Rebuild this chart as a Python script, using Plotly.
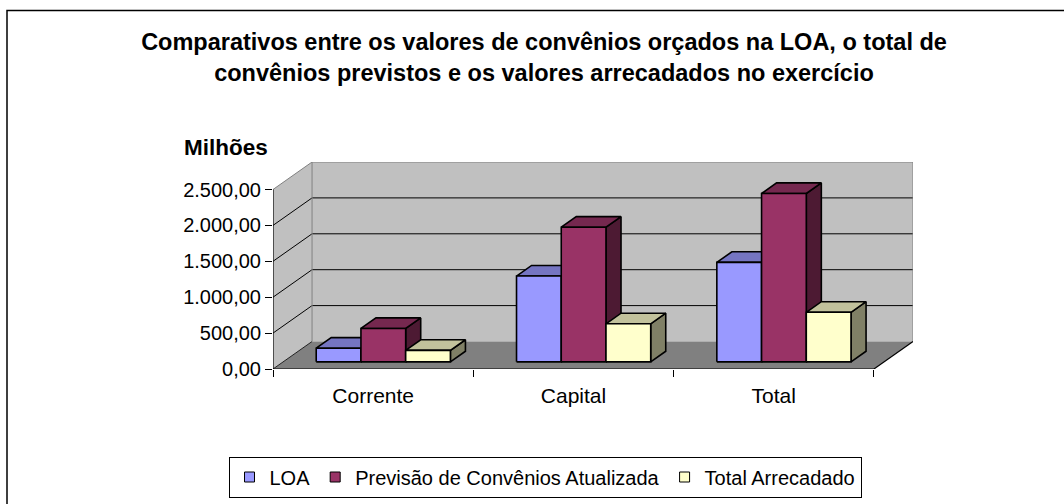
import plotly.graph_objects as go

# ---------------- data ----------------
categories = ["Corrente", "Capital", "Total"]
series_names = ["LOA", "Previsão de Convênios Atualizada", "Total Arrecadado"]
loa = [190, 1195, 1385]
previsao = [465, 1875, 2345]
arrecadado = [160, 530, 690]
y_tickvals = [0, 500, 1000, 1500, 2000, 2500]
y_ticktext = ["0,00", "500,00", "1.000,00", "1.500,00", "2.000,00", "2.500,00"]

front_colors = ["#9999FF", "#993366", "#FFFFCC"]
top_colors = ["#7575C2", "#75284F", "#C2C29C"]
side_colors = ["#4D4D80", "#4D1A33", "#808066"]

# ---------------- geometry / style ----------------
W, H = 1064, 504
ML, MR, MT, MB = 273, 151, 162, 135
PW, PH = W - ML - MR, H - MT - MB
DX = 0.195          # depth offset in category units
DY = 383            # depth offset in value units
D0, D1 = 0.26, 0.645  # bar depth span (fraction of full depth)
GAP = 0.165
BW = 0.2233
YMAX = y_tickvals[-1]
NCAT = len(categories)
FONT = "Liberation Sans, Arial, sans-serif"


def px_x(p):
    return (p - ML) / PW


def px_y(p):
    return (H - MB - p) / PH


def P(x, v, d):
    return (x + d * DX, v + d * DY)


def poly(pts, color, text=None):
    xs = [p[0] for p in pts] + [pts[0][0]]
    ys = [p[1] for p in pts] + [pts[0][1]]
    kw = dict(hoverinfo="skip")
    if text is not None:
        kw = dict(hoverinfo="text", text=text, hoveron="fills")
    return go.Scatter(x=xs, y=ys, mode="lines", fill="toself", fillcolor=color,
                      line=dict(color="black", width=1.6), showlegend=False, **kw)


fig = go.Figure()

series_values = [loa, previsao, arrecadado]
for ci, cat in enumerate(categories):
    for si, vals in enumerate(series_values):
        v = vals[ci]
        x0 = ci + GAP + si * BW
        x1 = x0 + BW
        front = [P(x0, 0, D0), P(x1, 0, D0), P(x1, v, D0), P(x0, v, D0)]
        top = [P(x0, v, D0), P(x1, v, D0), P(x1, v, D1), P(x0, v, D1)]
        side = [P(x1, 0, D0), P(x1, 0, D1), P(x1, v, D1), P(x1, v, D0)]
        fig.add_trace(poly(side, side_colors[si]))
        fig.add_trace(poly(top, top_colors[si]))
        fig.add_trace(poly(front, front_colors[si],
                           text=f"{series_names[si]} - {cat}: {v:,.2f}"))

# legend entries
for name, col in zip(series_names, front_colors):
    fig.add_trace(go.Scatter(x=[None], y=[None], mode="markers", name=name,
                             marker=dict(symbol="square", size=10, color=col,
                                         line=dict(color="black", width=1))))

# ---------------- walls, floor, gridlines ----------------
shapes = []


def path(pts):
    return "M " + " L ".join(f"{x},{y}" for x, y in pts) + " Z"


shapes.append(dict(type="path", layer="below", line=dict(width=0), fillcolor="#C0C0C0",
                   path=path([P(0, 0, 0), P(0, 0, 1), P(0, YMAX, 1), P(0, YMAX, 0)])))
shapes.append(dict(type="path", layer="below", line=dict(width=0), fillcolor="#C0C0C0",
                   path=path([P(0, 0, 1), P(NCAT, 0, 1), P(NCAT, YMAX, 1), P(0, YMAX, 1)])))
shapes.append(dict(type="path", layer="below", line=dict(width=0), fillcolor="#808080",
                   path=path([P(0, 0, 0), P(NCAT, 0, 0), P(NCAT, 0, 1), P(0, 0, 1)])))


def seg(a, b, color, width=1):
    return dict(type="line", layer="below", x0=a[0], y0=a[1], x1=b[0], y1=b[1],
                line=dict(color=color, width=width))


for v in y_tickvals[1:-1]:
    shapes.append(seg(P(0, v, 0), P(0, v, 1), "black"))
    shapes.append(seg(P(0, v, 1), P(NCAT, v, 1), "black"))
shapes.append(seg(P(0, 0, 0), P(0, 0, 1), "#202020"))
# wall borders (gray)
shapes.append(seg(P(0, YMAX, 0), P(0, YMAX, 1), "#808080"))
shapes.append(seg(P(0, YMAX, 1), P(NCAT, YMAX, 1), "#808080"))
shapes.append(seg(P(NCAT, 0, 1), P(NCAT, YMAX, 1), "#808080"))
shapes.append(seg(P(0, 0, 1), P(0, YMAX, 1), "#808080"))
# axes (black)
shapes.append(seg(P(0, 0, 0), P(0, YMAX, 0), "black", 1.2))
shapes.append(seg(P(0, 0, 0), P(NCAT, 0, 0), "black", 1.2))
shapes.append(seg(P(NCAT, 0, 0), P(NCAT, 0, 1), "black", 1.2))

# outer chart border
shapes.append(dict(type="rect", xref="paper", yref="paper", layer="above",
                   x0=px_x(7), x1=px_x(1100), y0=px_y(530), y1=px_y(10.5),
                   line=dict(color="black", width=1.5), fillcolor="rgba(0,0,0,0)"))

fig.update_layout(
    width=W, height=H,
    margin=dict(l=ML, r=MR, t=MT, b=MB),
    paper_bgcolor="white", plot_bgcolor="white",
    font=dict(family=FONT, size=20, color="black"),
    title=dict(text="<b>Comparativos entre os valores de convênios orçados na LOA, o total de<br>"
                    "convênios previstos e os valores arrecadados no exercício</b>",
               x=544 / W, xref="container", xanchor="center",
               y=1 - 50 / H, yref="container", yanchor="middle",
               font=dict(family=FONT, size=23.5, color="black")),
    shapes=shapes,
    showlegend=True,
    legend=dict(orientation="h", x=545 / W, xref="container", xanchor="center",
                y=1 - 477 / H, yref="container", yanchor="middle",
                bordercolor="black", borderwidth=1, bgcolor="white",
                font=dict(family=FONT, size=20, color="black"),
                itemwidth=30),
    annotations=[dict(text="<b>Milhões</b>", xref="paper", yref="paper",
                      x=px_x(182), y=px_y(148), xanchor="left", yanchor="middle",
                      showarrow=False, font=dict(family=FONT, size=22.5, color="black"))],
    xaxis=dict(range=[0, NCAT + DX], tickvals=[i + 0.5 for i in range(NCAT)],
               ticktext=categories, ticks="", showgrid=False, zeroline=False,
               showline=False, fixedrange=True, ticklabelstandoff=12,
               tickfont=dict(family=FONT, size=21, color="black"),
               minor=dict(tickvals=list(range(NCAT + 1)), ticks="outside", ticklen=7,
                          tickcolor="black", tickwidth=1, showgrid=False)),
    yaxis=dict(range=[0, YMAX + DY], tickvals=y_tickvals, ticktext=y_ticktext,
               ticks="outside", ticklen=7, tickcolor="black", tickwidth=1,
               showgrid=False, zeroline=False, showline=False, fixedrange=True),
)

fig.write_html("out.html", config={"displayModeBar": False},
               post_script="document.body.style.margin='0';document.body.style.overflow='hidden';")
